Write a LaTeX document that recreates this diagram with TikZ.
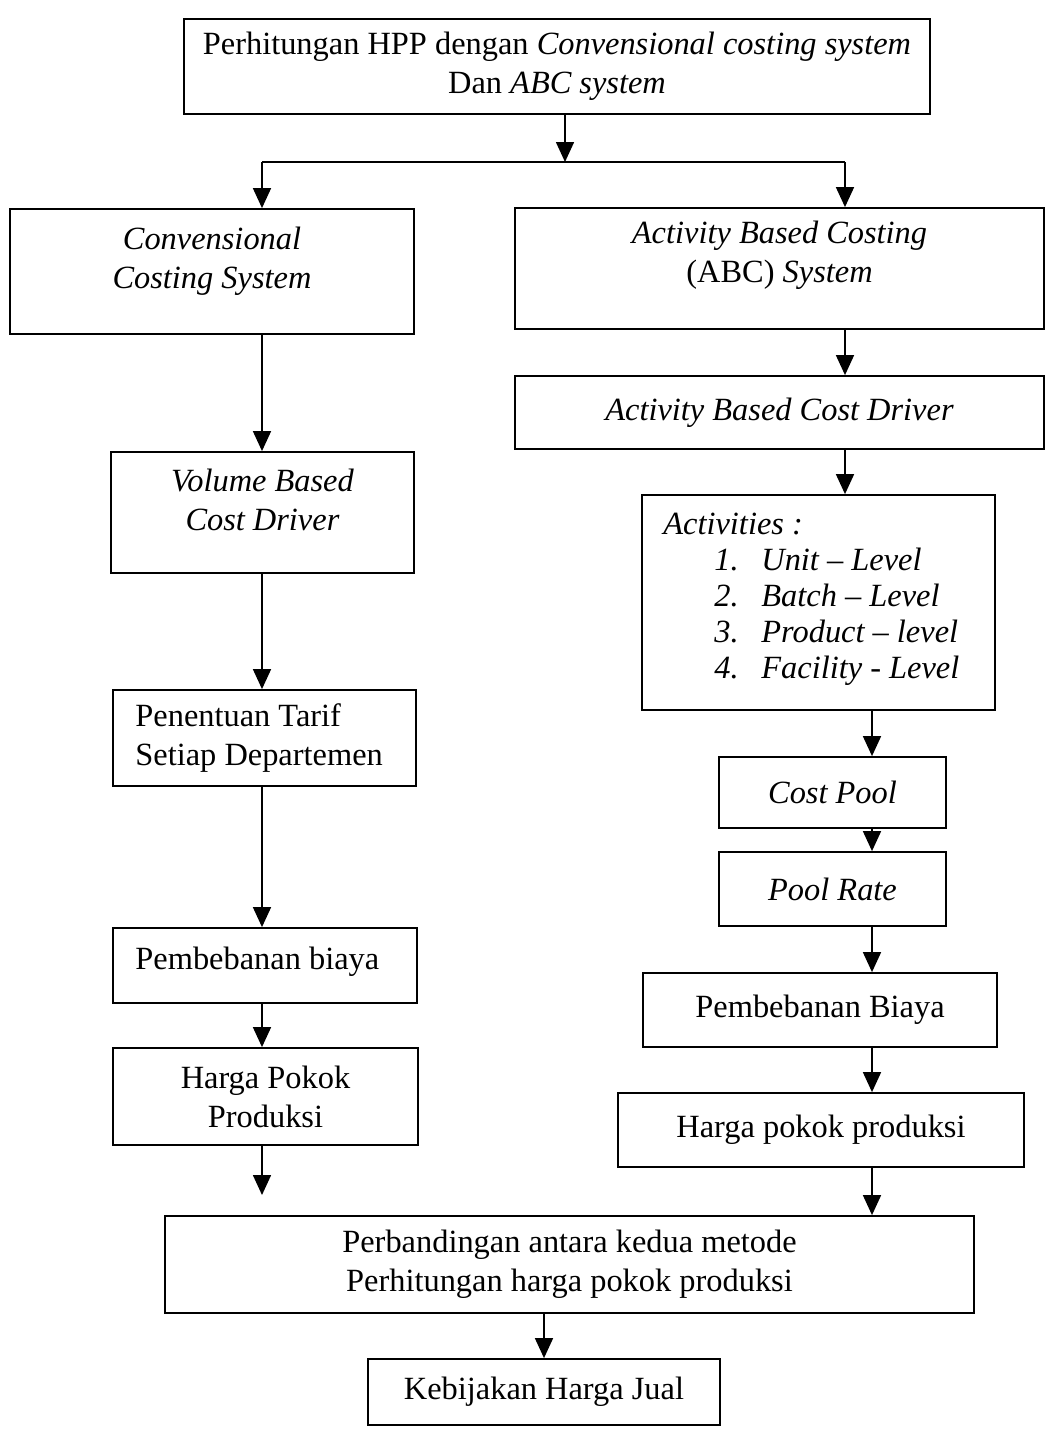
\documentclass[tikz,border=0pt]{standalone}
\usepackage{fontspec}
\setmainfont{Liberation Serif}
\usetikzlibrary{arrows.meta,calc}
\begin{document}
\begin{tikzpicture}[x=0.5pt,y=-0.5pt,
  box/.style={draw, line width=0.9pt, inner sep=0pt, align=center, font=\fontsize{16.2}{19.5}\selectfont},
  txt/.style={inner sep=0pt, align=center, font=\fontsize{16.2}{19.5}\selectfont},
  sz/.style 2 args={minimum width=#1*0.5pt, minimum height=#2*0.5pt},
  arr/.style={line width=0.8pt, -{Triangle[length=10pt,width=9pt]}},
  ln/.style={line width=0.8pt}]
\useasboundingbox (0,0) rectangle (1049,1431);
\fill[white] (0,0) rectangle (1049,1431);

% boxes
\node[box, sz={746}{95}] (top) at (557,66.5) {Perhitungan HPP dengan \textit{Convensional costing system}\\Dan \textit{ABC system}};

\node[box, sz={404}{125}] (conv) at (212,271.5) {};
\node[txt] (convt) at (212,261.5) {\textit{Convensional}\\\textit{Costing System}};

\node[box, sz={529}{121}] (abc) at (779.5,268.5) {};
\node[txt] (abct) at (779.5,255) {\textit{Activity Based Costing}\\(ABC) \textit{System}};

\node[box, sz={529}{73}] (acd) at (779.5,412.5) {\textit{Activity Based Cost Driver}};

\node[box, sz={303}{121}] (vol) at (262.5,512.5) {};
\node[txt] (volt) at (262.5,500) {\textit{Volume Based}\\\textit{Cost Driver}};

\node[box, sz={353}{215}] (act) at (818.5,602.5) {};
\node[txt, anchor=west, align=left, font=\fontsize{16.2}{18}\selectfont] (actt) at (663,599) {%
\textit{Activities :}\\
\hspace*{25.5pt}\makebox[23.5pt][l]{\textit{1.}}\textit{Unit – Level}\\
\hspace*{25.5pt}\makebox[23.5pt][l]{\textit{2.}}\textit{Batch – Level}\\
\hspace*{25.5pt}\makebox[23.5pt][l]{\textit{3.}}\textit{Product – level}\\
\hspace*{25.5pt}\makebox[23.5pt][l]{\textit{4.}}\textit{Facility - Level}};

\node[box, sz={303}{96}] (pen) at (264.5,738) {};
\node[txt, anchor=west, align=left] (pent) at (135,738) {Penentuan Tarif\\Setiap Departemen};

\node[box, sz={304}{75}] (peb) at (265,965.5) {};
\node[txt, anchor=west, align=left] (pebt) at (135,962) {Pembebanan biaya};

\node[box, sz={305}{97}] (hp1) at (265.5,1096.5) {Harga Pokok\\Produksi};

\node[box, sz={227}{71}] (cp) at (832.5,792.5) {\textit{Cost Pool}};
\node[box, sz={227}{74}] (pr) at (832.5,889) {\textit{Pool Rate}};
\node[box, sz={354}{74}] (pb2) at (820,1010) {Pembebanan Biaya};
\node[box, sz={406}{74}] (hp2) at (821,1130) {Harga pokok produksi};

\node[box, sz={809}{97}] (comp) at (569.5,1264.5) {Perbandingan antara kedua metode\\Perhitungan harga pokok produksi};
\node[box, sz={352}{66}] (keb) at (544,1392) {Kebijakan Harga Jual};

% connectors
\coordinate (split) at (565,162);
\coordinate (jL) at (262,162);
\coordinate (jR) at (845,162);
\coordinate (xR2) at (872,0);
\coordinate (xC) at (544,0);
\coordinate (endL) at (262,1195);

\draw[arr] (top.south -| split) -- (split);
\draw[ln] (jL) -- (jR);
\draw[arr] (jL) -- (jL |- conv.north);
\draw[arr] (jR) -- (jR |- abc.north);

\draw[arr] (conv.south -| jL) -- (vol.north -| jL);
\draw[arr] (vol.south -| jL) -- (pen.north -| jL);
\draw[arr] (pen.south -| jL) -- (peb.north -| jL);
\draw[arr] (peb.south -| jL) -- (hp1.north -| jL);
\draw[arr] (hp1.south -| jL) -- (endL);

\draw[arr] (abc.south -| jR) -- (acd.north -| jR);
\draw[arr] (acd.south -| jR) -- (act.north -| jR);
\draw[arr] (act.south -| xR2) -- (cp.north -| xR2);
\draw[arr] (cp.south -| xR2) -- (pr.north -| xR2);
\draw[arr] (pr.south -| xR2) -- (pb2.north -| xR2);
\draw[arr] (pb2.south -| xR2) -- (hp2.north -| xR2);
\draw[arr] (hp2.south -| xR2) -- (comp.north -| xR2);

\draw[arr] (comp.south -| xC) -- (keb.north -| xC);
\end{tikzpicture}
\end{document}
